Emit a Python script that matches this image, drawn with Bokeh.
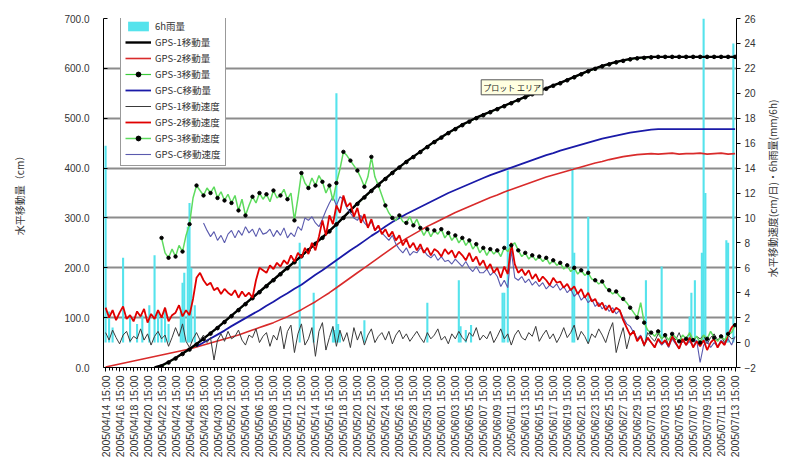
import math
import numpy as np
from bokeh.plotting import figure
from bokeh.models import (Range1d, LinearAxis, FixedTicker, NumeralTickFormatter,
                          Legend, LegendItem, Label)
from bokeh.embed import file_html
from bokeh.resources import INLINE

# ---------------- data ----------------
tick_labels = [
    "2005/04/14 15:00", "2005/04/16 15:00", "2005/04/18 15:00", "2005/04/20 15:00",
    "2005/04/22 15:00", "2005/04/24 15:00", "2005/04/26 15:00", "2005/04/28 15:00",
    "2005/04/30 15:00", "2005/05/02 15:00", "2005/05/04 15:00", "2005/05/06 15:00",
    "2005/05/08 15:00", "2005/05/10 15:00", "2005/05/12 15:00", "2005/05/14 15:00",
    "2005/05/16 15:00", "2005/05/18 15:00", "2005/05/20 15:00", "2005/05/22 15:00",
    "2005/05/24 15:00", "2005/05/26 15:00", "2005/05/28 15:00", "2005/05/30 15:00",
    "2005/06/01 15:00", "2005/06/03 15:00", "2005/06/05 15:00", "2005/06/07 15:00",
    "2005/06/09 15:00", "2005/06/11 15:00", "2005/06/13 15:00", "2005/06/15 15:00",
    "2005/06/17 15:00", "2005/06/19 15:00", "2005/06/21 15:00", "2005/06/23 15:00",
    "2005/06/25 15:00", "2005/06/27 15:00", "2005/06/29 15:00", "2005/07/01 15:00",
    "2005/07/03 15:00", "2005/07/05 15:00", "2005/07/07 15:00", "2005/07/09 15:00",
    "2005/07/11 15:00", "2005/07/13 15:00",
]
tick_days = list(range(0, 91, 2))          # days since 2005/04/14 15:00
left_ticks = [0, 100, 200, 300, 400, 500, 600, 700]
right_ticks = [-2, 0, 2, 4, 6, 8, 10, 12, 14, 16, 18, 20, 22, 24, 26]

day = list(range(91))                      # daily samples
half_day = [i / 2 for i in range(181)]     # 12-hourly samples

# 6h rainfall (mm)
rain_day = [0.0, 0.5, 1.0, 2.5, 3.5, 4.5, 5.25, 6.25, 7.0, 7.5,
            8.0, 8.5, 9.0, 10.75, 11.0, 11.25, 11.75, 12.0, 12.25, 12.75,
            27.75, 29.75, 32.5, 32.75, 33.0, 33.25, 33.5, 37.0, 46.0, 50.5,
            50.75, 51.5, 52.25, 56.75, 57.0, 57.5, 66.75, 67.0, 69.0, 77.25,
            79.5, 83.5, 83.75, 84.25, 85.25, 85.5, 85.75, 88.75, 89.0, 89.75]
rain_mm = [15.8, 2.5, 1.2, 6.8, 2.0, 1.5, 2.2, 3.0, 7.0, 2.5,
           2.0, 2.8, 1.5, 2.5, 4.8, 5.6, 9.3, 11.2, 6.0, 3.0,
           8.0, 4.0, 1.2, 1.0, 20.0, 1.5, 0.8, 1.8, 3.2, 5.0,
           1.3, 1.0, 1.4, 4.0, 4.0, 13.8, 14.0, 7.2, 10.1, 5.0,
           6.1, 2.1, 4.0, 5.0, 7.2, 26.0, 12.0, 8.2, 8.0, 24.0]

# horizontal displacement (cm), daily
gps1_disp = [None, None, None, None, None, None, None,
             0, 4, 11, 19, 28, 37, 47, 58, 69, 80,
             92, 104, 116, 128, 140, 152, 164, 176, 188, 200,
             212, 224, 236, 249, 261, 274, 287, 301, 315, 329,
             342, 355, 367, 379, 391, 402, 413, 423, 433, 443,
             453, 462, 471, 479, 487, 494, 501, 507, 513, 519,
             525, 531, 537, 543, 549, 555, 560, 566, 571, 577,
             583, 589, 595, 600, 605, 609, 613, 616, 619, 621,
             622, 623, 623, 623, 623, 623, 623, 623, 623, 623,
             623, 623, 623, 623]
gps2_disp = [1, 4, 7, 10, 13, 16, 19, 22, 25, 28,
             31, 34, 37, 41, 45, 49, 53, 57, 61, 65,
             70, 75, 80, 85, 90, 96, 102, 109, 116, 124,
             132, 141, 150, 160, 170, 180, 190, 200, 210, 220,
             230, 240, 250, 259, 267, 275, 283, 290, 297, 304,
             311, 317, 323, 329, 335, 341, 346, 352, 357, 362,
             367, 372, 377, 382, 386, 390, 394, 398, 402, 406,
             410, 413, 417, 420, 423, 425, 427, 428, 429, 428,
             429, 430, 428, 429, 429, 430, 428, 429, 430, 428,
             429]
gps3_disp = [None, None, None, None, None, None, None, None,
             2, 10, 18, 27, 36, 46, 57, 68, 79, 91,
             103, 115, 127, 139, 151, 163, 175, 187, 199, 211,
             223, 235, 248, 260, 273, 287, 300, 314, 328, 341,
             354, 366, 378, 390, 401, 412, 422, 432, 442, 452,
             461, 470, 478, 486, 493, 500, 506, 512, 518, 524,
             530, 536, 542, 548, 554, 559, 565, 570, 576, 582,
             588, 594, 599, 604, 608, 612, 615, 618, 620, 621,
             622, 623, 623, 623, 623, 623, 623, 623, 623, 623,
             623, 623, 623]
gpsc_disp = [None, None, None, None, None, None, None, None, None, None, None, None, None,
             42, 50, 58, 66, 74, 83, 91, 99, 107, 115,
             124, 132, 141, 149, 158, 166, 176, 186, 195, 205,
             215, 225, 235, 244, 254, 264, 273, 283, 292, 300,
             308, 315, 322, 329, 336, 343, 350, 356, 362, 368,
             374, 380, 386, 391, 396, 401, 406, 411, 416, 421,
             426, 430, 435, 439, 443, 447, 451, 455, 459, 462,
             465, 468, 471, 473, 475, 477, 478, 478, 478, 478,
             478, 478, 478, 478, 478, 478, 478, 478]

# horizontal velocity (cm/day), 12-hourly
gps1_speed = [0.8, 0.2, 1.0, 0.4, -0.1, 0.6, 0.9, 0.1, 0.5, 0.3,
              1.1, 0.2, 0.7, -0.2, 0.5, 0.9, 0.3, 0.6, -0.3, 0.4,
              1.2, 0.5, 1.5, 0.1, -0.4, 0.3, 0.8, 0.2, 0.6, 0.0,
              0.4, -1.4, 0.2, 0.7, 0.1, 0.9, 0.3, 0.5, 1.0, 0.2,
              -0.2, 0.6, 0.4, 1.1, 0.0, 0.5, 0.8, -0.3, 0.6, 0.2,
              1.3, -0.5, 0.9, 1.4, -0.8, 0.7, 1.5, -0.2, 0.3, 1.2,
              -1.1, 0.9, 1.6, -0.6, 0.4, 1.3, -0.3, 1.0, 0.1, 0.8,
              -0.4, 1.2, 0.2, 0.9, -0.2, 0.6, 1.1, 0.0, 0.5, 0.8,
              0.2, 0.9, -0.1, 0.6, 1.0, 0.3, 0.7, 0.1, 0.5, 0.9,
              0.4, 0.0, 0.8, 0.3, 0.6, 1.1, 0.2, 0.5, -0.1, 0.7,
              0.3, 0.9, 0.4, 0.1, 0.8, 0.5, 1.2, 0.2, 0.6, 0.3,
              0.9, 0.0, 0.5, 1.1, 0.3, 0.7, -0.2, 0.6, 1.0, 0.4,
              0.2, 0.8, 0.5, 1.3, 0.1, 0.6, 1.0, 0.3, 0.7, 0.0,
              0.5, 1.2, 0.4, 0.8, 1.4, 0.2, 0.9, 0.5, -0.1, 0.7,
              0.4, 1.1, 0.6, 0.0, 0.9, 1.6, -0.8, 0.3, 1.2, -0.5,
              0.6, 1.0, 0.2, 0.5, -0.3, 0.8, 0.4, 0.1, 0.7, 0.3,
              0.5, -0.2, 0.6, 0.2, 0.8, 0.0, 0.4, 0.7, 0.1, 0.5,
              0.3, 0.6, -0.1, 0.4, 0.7, 0.2, 0.5, 0.0, 0.6, 0.3,
              0.4]
gps2_speed = [2.8, 2.0, 2.6, 1.8, 2.4, 2.9, 1.9, 2.2, 1.7, 2.5,
              2.1, 2.7, 1.6, 2.3, 1.9, 2.6, 2.0, 2.8, 1.7, 2.2,
              2.4, 3.0, 2.1, 2.6, 2.2, 3.5, 5.2, 5.6, 5.0, 4.6,
              4.8, 4.2, 4.4, 3.9, 4.3, 4.0, 3.8, 4.2, 3.6, 4.1,
              3.7, 4.0, 3.6, 5.0, 6.0, 5.8, 5.6, 6.2, 5.9, 6.4,
              6.1, 6.6, 6.3, 7.0, 6.5, 7.2, 6.8, 7.6, 7.1, 8.0,
              7.4, 8.5, 9.8, 8.6, 10.2, 9.5, 11.0, 10.4, 11.8, 10.9,
              11.2, 10.1, 10.8, 9.6, 10.3, 9.2, 9.9, 9.0, 9.4, 8.7,
              9.1, 8.5, 8.9, 8.2, 8.6, 7.8, 8.3, 7.6, 8.0, 7.4,
              7.9, 7.2, 7.6, 7.0, 7.5, 7.3, 6.9, 7.5, 7.1, 7.4,
              6.8, 7.3, 7.0, 6.6, 7.2, 6.5, 6.9, 6.2, 6.6, 5.9,
              6.3, 5.6, 6.0, 5.2, 6.1, 5.5, 8.0, 6.3, 5.6, 5.9,
              5.4, 5.8, 5.1, 5.5, 4.9, 5.3, 5.0, 4.6, 5.2, 4.8,
              4.9, 4.4, 4.7, 4.2, 4.5, 3.9, 4.3, 3.6, 4.0, 3.3,
              3.5, 2.9, 3.2, 2.6, 3.0, 2.4, 2.8, 2.6, 1.8, 1.2,
              0.6, 0.9, 0.1, 0.5, -0.2, 0.4, 0.0, -0.4, 0.3, -0.1,
              0.2, -0.3, 0.5, 0.0, -0.5, 0.3, -0.2, 0.4, -0.4, 0.1,
              -0.3, 0.2, -0.6, 0.0, 0.3, -0.4, 0.1, -0.2, 0.6, 1.2,
              1.5]
gps3_speed = [None, None, None, None, None, None, None, None,
              None, None, None, None, None, None, None, None,
              8.4, 7.2, 6.8, 7.5, 6.9, 7.8, 7.3, 8.6, 9.5, 11.6,
              12.6, 12.2, 11.8, 12.4, 12.0, 12.5, 11.6, 12.1, 11.4, 11.9,
              11.2, 11.8, 10.6, 11.5, 10.2, 11.0, 11.7, 11.2, 12.0, 11.5,
              11.9, 11.3, 12.2, 11.6, 11.8, 12.3, 11.5, 12.0, 9.8, 11.6,
              13.6, 12.8, 12.4, 13.2, 12.6, 13.4, 12.9, 12.0, 12.6, 11.4,
              12.8, 13.9, 15.3, 15.0, 14.6, 14.2, 13.8, 13.2, 12.5, 13.3,
              14.9, 13.3, 12.6, 11.8, 11.0, 10.4, 10.0, 9.8, 10.2, 9.7,
              9.6, 10.1, 9.4, 9.9, 9.2, 8.6, 9.1, 8.5, 9.0, 8.7,
              9.1, 8.4, 8.8, 8.2, 8.6, 8.0, 8.4, 7.8, 8.2, 7.5,
              7.9, 7.2, 7.6, 7.0, 7.5, 7.1, 7.4, 6.9, 7.6, 7.3,
              7.8, 8.0, 7.4, 6.9, 7.2, 6.7, 7.0, 6.6, 6.9, 6.5,
              6.8, 6.3, 6.6, 6.2, 6.4, 5.9, 6.2, 5.7, 6.0, 5.5,
              5.8, 5.4, 5.6, 5.1, 5.0, 4.7, 4.9, 4.4, 4.2, 3.9,
              4.1, 3.7, 3.5, 3.2, 2.8, 2.4, 2.0, 3.2, 1.6, 1.0,
              0.8, 0.5, 0.9, 0.3, 0.6, 0.2, 0.7, 0.4, 0.1, 0.6,
              0.3, 0.8, 0.2, 0.5, 0.0, 0.6, 0.3, 0.9, 0.4, 0.1,
              0.5, 0.2, 0.7, 0.8, 1.4]
gpsc_speed = [None, None, None, None, None, None, None, None, None, None,
              None, None, None, None, None, None, None, None, None, None,
              None, None, None, None, None, None, None, None,
              9.6, 9.0, 8.5, 8.9, 8.2, 8.6, 8.0, 8.7, 9.0, 8.4,
              9.0, 8.6, 9.3, 8.8, 9.1, 8.5, 9.2, 8.7, 8.8, 9.1,
              8.5, 9.0, 8.6, 9.2, 8.4, 8.8, 8.5, 9.3, 9.0, 10.0,
              9.8, 10.1, 9.6, 9.3, 9.9, 10.6, 11.2, 11.7, 11.0, 11.7,
              11.5, 10.8, 10.4, 10.0, 9.8, 10.2, 9.6, 9.3, 9.7, 9.0,
              9.3, 8.8, 8.5, 8.2, 8.6, 7.9, 7.5, 7.2, 7.6, 7.0,
              7.3, 7.2, 7.6, 7.4, 7.0, 6.8, 7.1, 6.6, 6.9, 6.5,
              6.6, 6.3, 6.7, 6.4, 6.1, 6.5, 6.0, 5.7, 6.1, 5.6,
              5.6, 5.9, 5.4, 5.7, 5.3, 4.5, 5.0, 4.4, 7.4, 5.2,
              5.0, 5.3, 4.8, 5.1, 4.6, 4.9, 4.5, 4.8, 4.3, 4.6,
              4.4, 4.7, 4.2, 4.5, 4.0, 4.3, 3.7, 4.0, 3.4, 3.7,
              3.2, 3.5, 2.9, 3.2, 2.7, 3.0, 2.5, 2.8, 2.3, 2.6,
              2.0, 1.5, 1.3, 0.8, 0.3, 0.6, -0.1, 0.3, 0.0, -0.3,
              0.2, -0.2, 0.1, -0.4, 0.3, -0.1, -0.5, 0.2, -0.2, 0.1,
              -0.3, 0.2, -1.6, -0.2, 0.1, -0.4, 0.0, -0.3, 0.2, -0.1,
              0.3, -0.2, 0.5]

series_names = ["6h雨量", "GPS-1移動量", "GPS-2移動量", "GPS-3移動量", "GPS-C移動量",
                "GPS-1移動速度", "GPS-2移動速度", "GPS-3移動速度", "GPS-C移動速度"]
left_title = "水平移動量（cm）"
right_title = "水平移動速度(cm/日)・6h雨量(mm/6h)"
note_text = "プロット エリア"

def arr(a):
    return np.array(a, dtype=float)

# ---------------- figure ----------------
JP = "Noto Sans CJK JP"
LAT = "Liberation Sans"

p = figure(width=800, height=467, output_backend="svg", toolbar_location=None,
           x_range=Range1d(-0.3, 90.2), y_range=Range1d(0, 700),
           min_border_left=103, min_border_right=64, min_border_top=18,
           min_border_bottom=100)
p.extra_y_ranges = {"right": Range1d(-2, 26)}
p.outline_line_color = None
p.background_fill_color = "white"
p.border_fill_color = "white"

# axes
p.xaxis.ticker = FixedTicker(ticks=tick_days, minor_ticks=half_day)
p.xaxis.major_label_overrides = {t: lab for t, lab in zip(tick_days, tick_labels)}
p.xaxis.major_label_orientation = math.pi / 2
p.xaxis.major_label_text_font = LAT
p.xaxis.major_label_text_font_size = "10.5px"
p.xaxis.major_label_text_color = "#333333"
p.xaxis.major_label_standoff = 4
p.xaxis.major_tick_out = 4
p.xaxis.major_tick_in = 0
p.xaxis.minor_tick_out = 3
p.xaxis.minor_tick_in = 0
p.xaxis.axis_line_color = "black"

p.yaxis.ticker = FixedTicker(ticks=left_ticks)
p.yaxis.formatter = NumeralTickFormatter(format="0.0")
p.yaxis.major_label_text_font = LAT
p.yaxis.major_label_text_font_size = "10px"
p.yaxis.major_label_text_color = "#333333"
p.yaxis.major_tick_in = 4
p.yaxis.major_tick_out = 0
p.yaxis.minor_tick_line_color = None
p.yaxis.major_label_standoff = 14
p.yaxis.axis_label = left_title
p.yaxis.axis_label_text_font = JP
p.yaxis.axis_label_text_font_size = "10px"
p.yaxis.axis_label_text_font_style = "normal"
p.yaxis.axis_label_text_color = "#333333"
p.yaxis.axis_label_standoff = 34

raxis = LinearAxis(y_range_name="right", ticker=FixedTicker(ticks=right_ticks))
raxis.major_label_text_font = LAT
raxis.major_label_text_font_size = "10px"
raxis.major_label_text_color = "#333333"
raxis.major_tick_out = 4
raxis.major_tick_in = 0
raxis.minor_tick_line_color = None
raxis.major_label_standoff = 4
p.add_layout(raxis, "right")

# second right axis whose single rotated tick label is the axis title
title_anchor = 5.25
tax = LinearAxis(y_range_name="right", ticker=FixedTicker(ticks=[title_anchor]))
tax.major_label_overrides = {title_anchor: right_title}
tax.major_label_orientation = math.pi / 2
tax.major_label_text_font = JP
tax.major_label_text_font_size = "10px"
tax.major_label_text_color = "#333333"
tax.major_label_standoff = 14
tax.axis_line_color = None
tax.major_tick_line_color = None
tax.minor_tick_line_color = None
tax.major_tick_out = 0
tax.major_tick_in = 0
p.add_layout(tax, "right")

p.xgrid.visible = False
p.ygrid.ticker = FixedTicker(ticks=left_ticks)
p.ygrid.grid_line_color = "#8c8c8c"
p.ygrid.grid_line_width = 2

# glyphs
r_rain = p.vbar(x=rain_day, top=rain_mm, bottom=0, width=0.3, y_range_name="right",
                fill_color="#55E3EC", line_color=None)

x_d = arr(day)
x_h = arr(half_day)

r_d2 = p.line(x_d, arr(gps2_disp), line_color="#D92B2B", line_width=1.6)
r_dc = p.line(x_d, arr(gpsc_disp), line_color="#1A1AA8", line_width=1.8)
r_d3l = p.line(x_d, arr(gps3_disp), line_color="#3CCB3C", line_width=1.2)
r_d3m = p.scatter(x_d, arr(gps3_disp), marker="circle", size=3.6,
                  fill_color="black", line_color="black")
r_d1 = p.line(x_d, arr(gps1_disp), line_color="black", line_width=2.4)

r_s1 = p.line(x_h, arr(gps1_speed), line_color="#3a3a3a", line_width=1,
              y_range_name="right")
r_sc = p.line(x_h, arr(gpsc_speed), line_color="#5A5AAE", line_width=1.1,
              y_range_name="right")
r_s2 = p.line(x_h, arr(gps2_speed), line_color="#E00000", line_width=1.8,
              y_range_name="right")
r_s3l = p.line(x_h, arr(gps3_speed), line_color="#5EDB5E", line_width=1.5,
               y_range_name="right")
r_s3m = p.scatter(x_h[::2], arr(gps3_speed)[::2], marker="circle", size=3.4,
                  fill_color="black", line_color="black", y_range_name="right")

# legend
items = [
    LegendItem(label=series_names[0], renderers=[r_rain]),
    LegendItem(label=series_names[1], renderers=[r_d1]),
    LegendItem(label=series_names[2], renderers=[r_d2]),
    LegendItem(label=series_names[3], renderers=[r_d3l, r_d3m]),
    LegendItem(label=series_names[4], renderers=[r_dc]),
    LegendItem(label=series_names[5], renderers=[r_s1]),
    LegendItem(label=series_names[6], renderers=[r_s2]),
    LegendItem(label=series_names[7], renderers=[r_s3l, r_s3m]),
    LegendItem(label=series_names[8], renderers=[r_sc]),
]
legend = Legend(items=items, location=(17, 201), margin=0, padding=4, spacing=2,
                glyph_width=26, glyph_height=12, label_height=12,
                label_text_font=JP, label_text_font_size="9.5px",
                label_text_color="#333333", label_standoff=4,
                border_line_color="#333333", border_line_width=1,
                background_fill_color="white", background_fill_alpha=1.0)
p.add_layout(legend, "center")

# annotation
p.add_layout(Label(x=53.7, y=562, text=note_text, text_font=JP, text_font_size="8px",
                   text_color="#222222", text_align="left", text_baseline="middle",
                   padding=2, background_fill_color="#FFFFE1",
                   border_line_color="#555555", border_line_width=1))

open("out.html", "w").write(file_html(p, INLINE))
